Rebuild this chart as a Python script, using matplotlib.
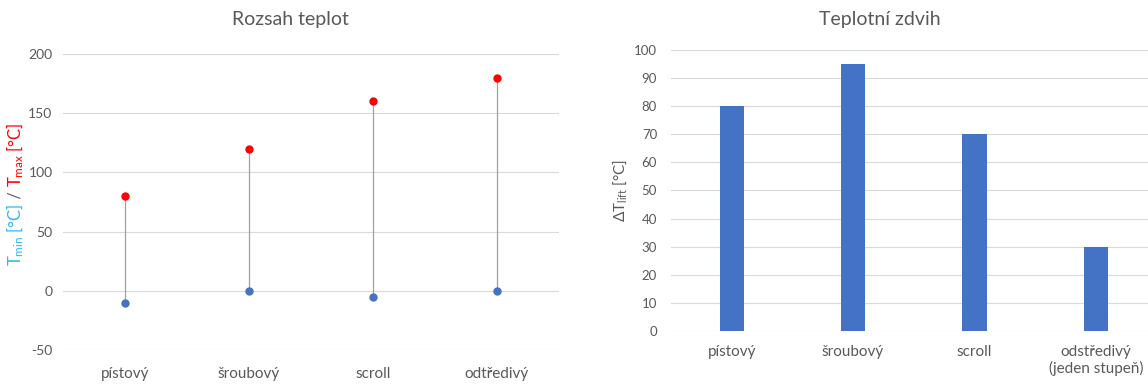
import matplotlib
matplotlib.use("Agg")
import matplotlib.pyplot as plt
import numpy as np

plt.rcParams['font.family'] = ['Lato', 'DejaVu Sans']
plt.rcParams['mathtext.default'] = 'regular'
plt.rcParams['axes.unicode_minus'] = False

# temperature range per compressor type
types = ['pístový', 'šroubový', 'scroll', 'odtředivý']
t_min = [-10, 0, -5, 0]
t_max = [80, 120, 160, 180]

# temperature lift
lift_types = ['pístový', 'šroubový', 'scroll', 'odstředivý\n(jeden stupeň)']
lift = [80, 95, 70, 30]

gray = '#595959'
grid = '#D9D9D9'
blue = '#4472C4'

fig = plt.figure(figsize=(11.48, 3.85), dpi=100)
ax1 = fig.add_axes([0.0549, 0.0909, 0.432, 0.769])
ax2 = fig.add_axes([0.5845, 0.1403, 0.4155, 0.7299])


def style(ax):
    for s in ax.spines.values():
        s.set_visible(False)
    ax.tick_params(length=0, colors=gray, labelsize=10)
    ax.grid(axis='y', color=grid, lw=0.8)
    ax.set_axisbelow(True)


# left: min/max dot plot
x = np.arange(len(types))
style(ax1)
ax1.vlines(x, t_min, t_max, color='#A0A0A0', lw=0.9, zorder=2)
ax1.plot(x, t_max, 'o', color='#FF0000', ms=5, zorder=3)
ax1.plot(x, t_min, 'o', color=blue, ms=5, zorder=3)
ax1.set_xlim(-0.5, 3.5)
ax1.set_ylim(-50, 200)
ax1.set_yticks(np.arange(-50, 201, 50))
ax1.set_xticks(x)
ax1.set_xticklabels(types)
ax1.tick_params(axis='x', pad=12, labelsize=11)
ax1.tick_params(axis='y', pad=7.5, labelsize=10)

# two-coloured axis label
t1 = ax1.text(-0.096, 0.285, r'T$_{min}$ [°C]', transform=ax1.transAxes,
              rotation=90, color='#2EB8F0', fontsize=12, ha='center', va='bottom')
t2 = ax1.annotate(' / ', xy=(0.5, 1), xycoords=t1, rotation=90, color=gray,
                  fontsize=12, ha='center', va='bottom')
ax1.annotate(r'T$_{max}$ [°C]', xy=(0.5, 1), xycoords=t2, rotation=90,
             color='#FF0000', fontsize=12, ha='center', va='bottom')

# right: bar chart
style(ax2)
xl = np.arange(len(lift_types))
ax2.bar(xl, lift, width=0.2, color=blue, zorder=2)
ax2.set_xlim(-0.5, 3.43)
ax2.set_ylim(0, 100)
ax2.set_yticks(np.arange(0, 101, 10))
ax2.set_xticks(xl)
ax2.set_xticklabels(lift_types)
ax2.tick_params(axis='x', pad=10, labelsize=11)
ax2.tick_params(axis='y', pad=10, labelsize=9.5)
ax2.set_ylabel(r'ΔT$_{lift}$ [°C]', color=gray, fontsize=11, labelpad=4)

fig.text(290 / 1148, 1 - 20 / 385, 'Rozsah teplot', color=gray, fontsize=14,
         ha='center', va='center')
fig.text(880 / 1148, 1 - 20 / 385, 'Teplotní zdvih', color=gray, fontsize=14,
         ha='center', va='center')

fig.savefig('out.png', dpi=100)
